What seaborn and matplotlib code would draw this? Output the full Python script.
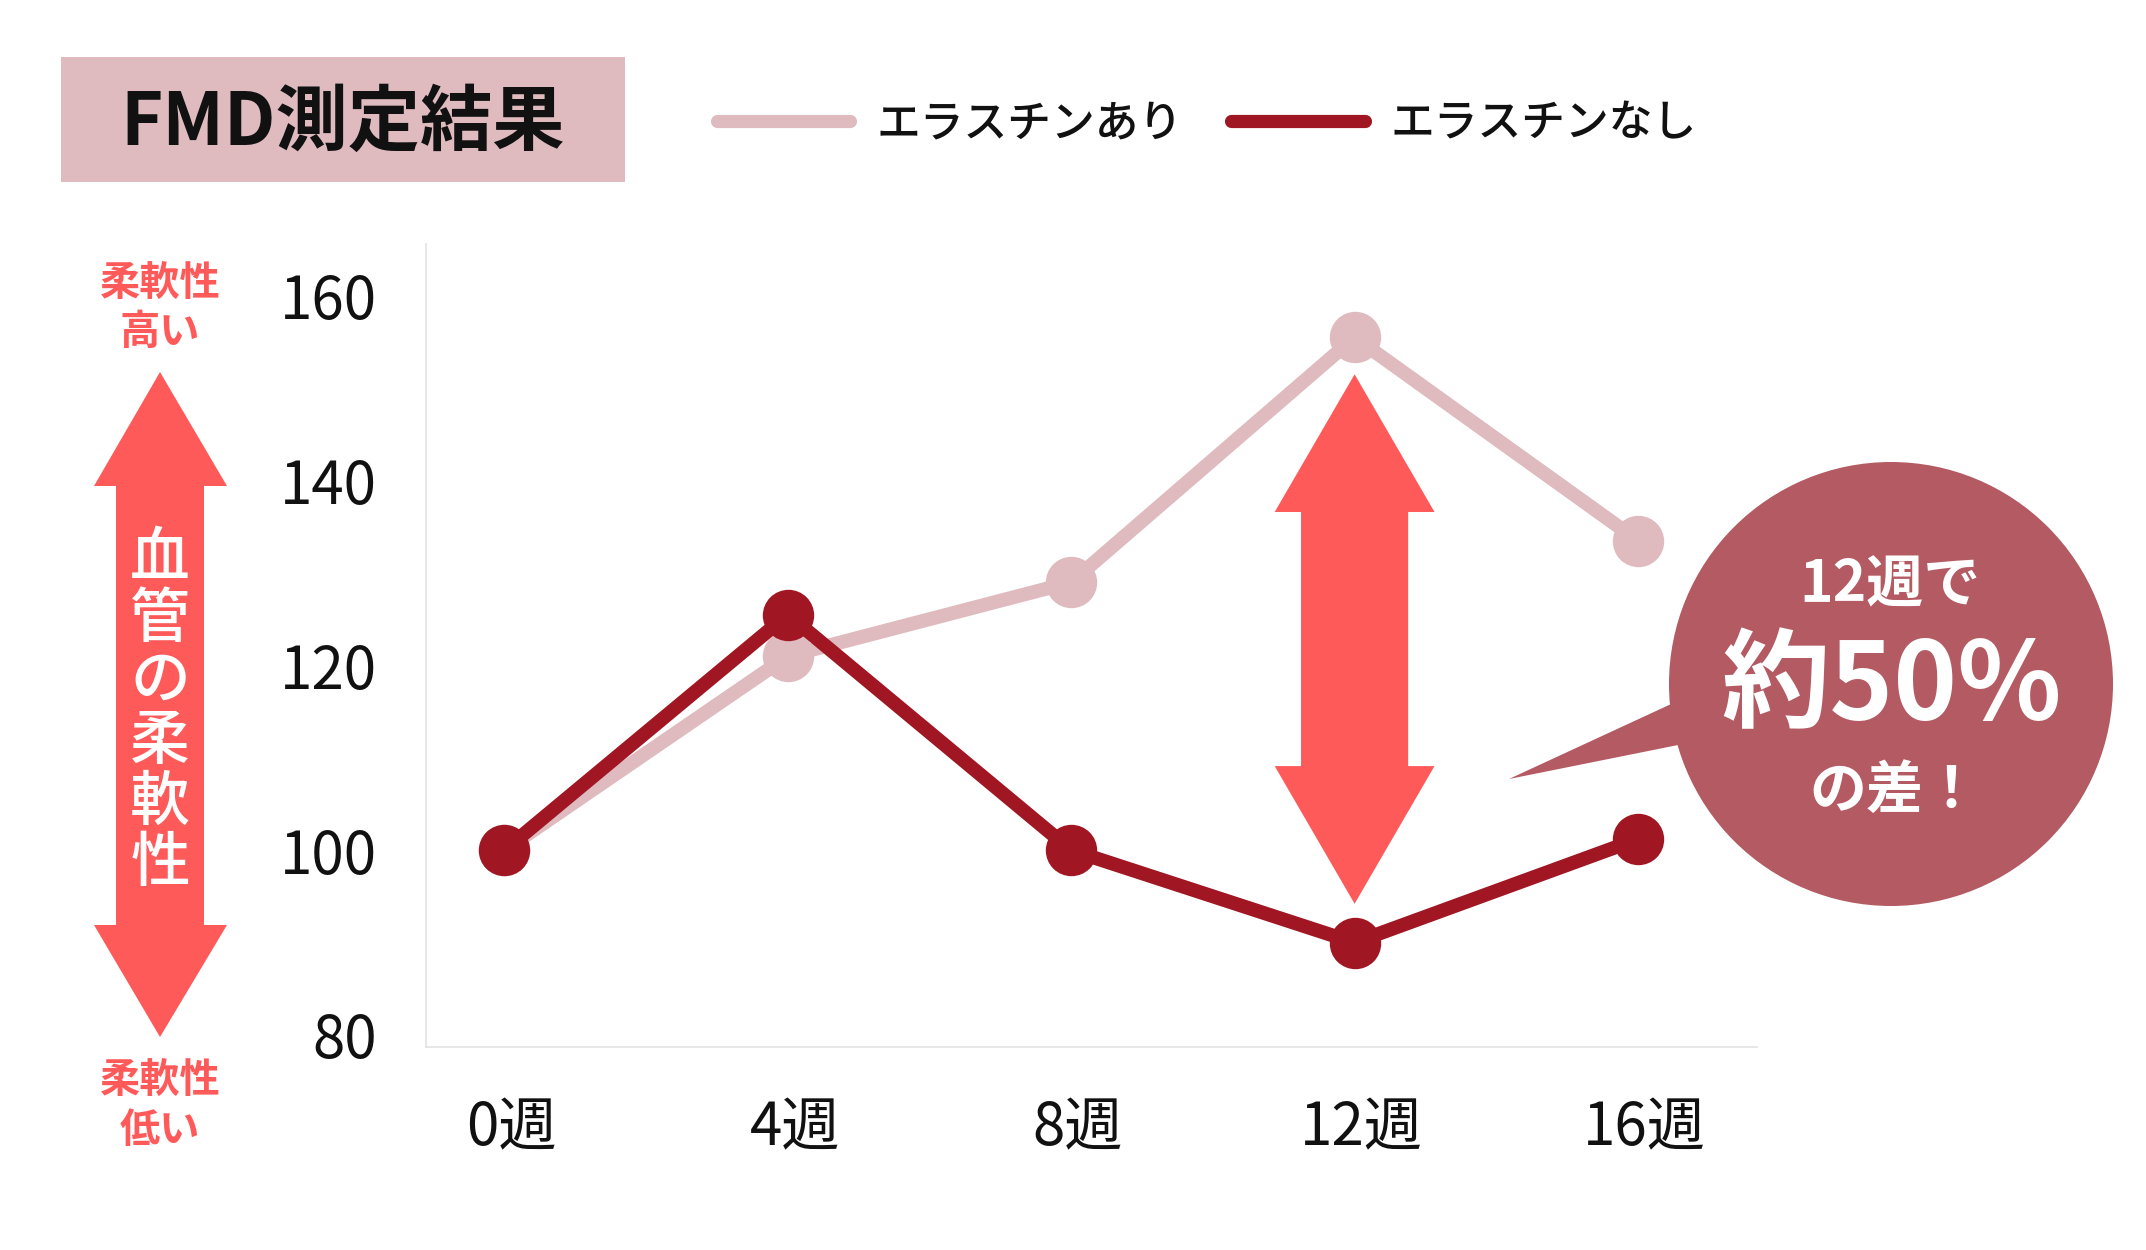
import numpy as np
import pandas as pd
import matplotlib
matplotlib.use("Agg")
import matplotlib.pyplot as plt
import matplotlib.transforms as mtransforms
import seaborn as sns
from matplotlib.patches import Polygon, Circle, Rectangle
from matplotlib.lines import Line2D

# ---------------- data ----------------
weeks = ["0週", "4週", "8週", "12週", "16週"]
with_elastin = [100, 121, 129, 155.5, 133.5]
without_elastin = [100, 125.5, 100, 90, 101.2]
series_names = ["エラスチンあり", "エラスチンなし"]
y_ticks = [80, 100, 120, 140, 160]

LIGHT = "#DFBBC0"
DARK = "#A01723"
RED = "#FF5A5A"
BUBBLE = "#B35A63"
INK = "#111111"

sns.set_theme(style="white")
plt.rcParams["font.family"] = ["Noto Sans CJK JP", "DejaVu Sans"]

W, H = 2146, 1250
fig = plt.figure(figsize=(W / 100, H / 100), dpi=100)
fig.patch.set_facecolor("white")
ax = fig.add_axes([426 / W, 1 - 1047 / H, (1757 - 426) / W, (1047 - 244) / H])

df = pd.DataFrame({
    "pos": list(range(len(weeks))) * 2,
    "value": with_elastin + without_elastin,
    "group": [series_names[0]] * len(weeks) + [series_names[1]] * len(weeks),
})
sns.lineplot(data=df, x="pos", y="value", hue="group",
             palette={series_names[0]: LIGHT, series_names[1]: DARK},
             marker="o", markersize=37, markeredgewidth=0, linewidth=10,
             solid_capstyle="round", solid_joinstyle="round",
             legend=False, ax=ax, sort=False)

ax.set_xlim(-0.277, 4.42)
ax.set_ylim(78.7, 165.6)
ax.set_xticks(range(len(weeks)))
ax.set_xticklabels(weeks)
ax.set_yticks(y_ticks)
ax.set_xlabel("")
ax.set_ylabel("")
ax.tick_params(axis="both", length=0, labelsize=42, colors=INK)
ax.tick_params(axis="y", pad=35.5)
ax.tick_params(axis="x", pad=37)
offset = mtransforms.ScaledTranslation(5 / 72, 0, fig.dpi_scale_trans)
for lbl in ax.get_xticklabels():
    lbl.set_transform(lbl.get_transform() + offset)
for s in ["top", "right"]:
    ax.spines[s].set_visible(False)
for s in ["left", "bottom"]:
    ax.spines[s].set_color("#e3e3e3")
    ax.spines[s].set_linewidth(1.2)
ax.grid(False)

# middle double arrow at 12週 (data coords)
xc = 3
top = with_elastin[xc] - 4
bot = without_elastin[xc] + 4.2
hl, hw, sw = 14.9, 0.282, 0.189
arrow_pts = [(xc, top), (xc + hw, top - hl), (xc + sw, top - hl), (xc + sw, bot + hl),
             (xc + hw, bot + hl), (xc, bot), (xc - hw, bot + hl), (xc - sw, bot + hl),
             (xc - sw, top - hl), (xc - hw, top - hl)]
ax.add_patch(Polygon(arrow_pts, closed=True, facecolor=RED, edgecolor="none", zorder=1))

# ---------------- overlay decorations (pixel coords) ----------------
ov = fig.add_axes([0, 0, 1, 1], zorder=5)
ov.set_xlim(0, W)
ov.set_ylim(H, 0)
ov.axis("off")

# title box
ov.add_patch(Rectangle((61, 57), 564, 125, facecolor=LIGHT, edgecolor="none"))
ov.text(343, 124, "FMD測定結果", fontsize=52, fontweight="bold", color=INK,
        ha="center", va="center")

# legend
handles = [Line2D([], [], color=LIGHT, lw=9.5, solid_capstyle="round"),
           Line2D([], [], color=DARK, lw=9.5, solid_capstyle="round")]
leg = fig.legend(handles=handles, labels=series_names, loc="center left",
                 bbox_to_anchor=(717 / W, 1 - 124 / H), ncol=2, frameon=False,
                 prop={"size": 31.5, "weight": "medium"}, handlelength=3.05,
                 handletextpad=0.6, columnspacing=1.1, borderpad=0, borderaxespad=0)
for t in leg.get_texts():
    t.set_color(INK)

# left big arrow
left_arrow = [(160, 372), (227, 486), (204, 486), (204, 925), (227, 925), (160, 1037),
              (94, 925), (116, 925), (116, 486), (94, 486)]
ov.add_patch(Polygon(left_arrow, closed=True, facecolor=RED, edgecolor="none"))
vert = "血管の柔軟性"
for i, ch in enumerate(vert):
    ov.text(160, 711 + (i - 2.5) * 61, ch, fontsize=43, fontweight="medium",
            color="white", ha="center", va="center")

ov.text(160, 284, "柔軟性", fontsize=29, fontweight="bold", color=RED, ha="center", va="center")
ov.text(160, 332, "高い", fontsize=29, fontweight="bold", color=RED, ha="center", va="center")
ov.text(160, 1081, "柔軟性", fontsize=29, fontweight="bold", color=RED, ha="center", va="center")
ov.text(160, 1131, "低い", fontsize=29, fontweight="bold", color=RED, ha="center", va="center")

# speech bubble
ov.add_patch(Circle((1891, 684), 222, facecolor=BUBBLE, edgecolor="none"))
ov.add_patch(Polygon([(1509, 779), (1682, 699), (1688, 743)], closed=True,
                     facecolor=BUBBLE, edgecolor="none"))
ov.text(1890, 585, "12週で", fontsize=41, fontweight="bold", color="white", ha="center", va="center")
ov.text(1892, 688, "約50%", fontsize=78, fontweight="bold", color="white", ha="center", va="center")
ov.text(1895, 791, "の差！", fontsize=41, fontweight="bold", color="white", ha="center", va="center")

fig.savefig("out.png", dpi=100)
